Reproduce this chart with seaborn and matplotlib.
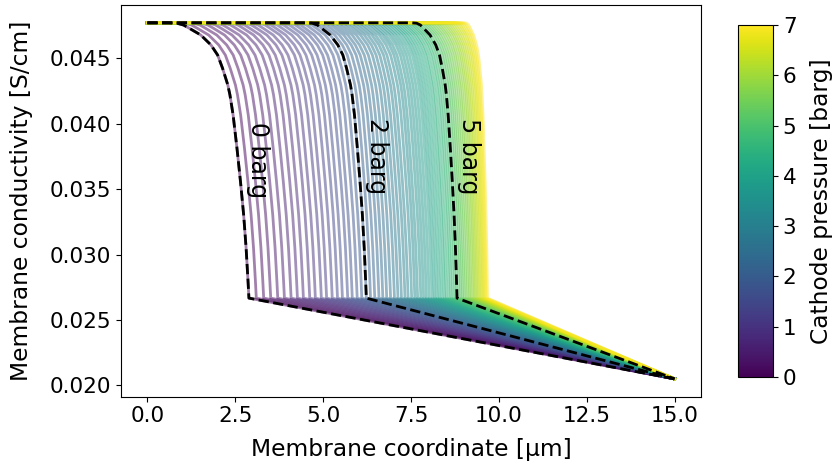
import numpy as np
import pandas as pd
import matplotlib
matplotlib.use("Agg")
import matplotlib.pyplot as plt
import seaborn as sns
from matplotlib.colors import Normalize

# ---- data ----
pressures = [0.0, 0.1, 0.2, 0.3, 0.4, 0.5, 0.6, 0.7, 0.8, 0.9,
             1.0, 1.1, 1.2, 1.3, 1.4, 1.5, 1.6, 1.7, 1.8, 1.9,
             2.0, 2.1, 2.2, 2.3, 2.4, 2.5, 2.6, 2.7, 2.8, 2.9,
             3.0, 3.1, 3.2, 3.3, 3.4, 3.5, 3.6, 3.7, 3.8, 3.9,
             4.0, 4.1, 4.2, 4.3, 4.4, 4.5, 4.6, 4.7, 4.8, 4.9,
             5.0, 5.1, 5.2, 5.3, 5.4, 5.5, 5.6, 5.7, 5.8, 5.9,
             6.0, 6.1, 6.2, 6.3, 6.4, 6.5, 6.6, 6.7, 6.8, 6.9, 7.0]

# position of the foot of the conductivity drop [um] for each pressure
front_x = [2.89, 3.10, 3.31, 3.51, 3.71, 3.90, 4.09, 4.27, 4.44, 4.62,
           4.78, 4.95, 5.10, 5.26, 5.41, 5.55, 5.70, 5.83, 5.97, 6.10,
           6.23, 6.35, 6.47, 6.59, 6.70, 6.81, 6.92, 7.03, 7.13, 7.23,
           7.33, 7.42, 7.52, 7.61, 7.69, 7.78, 7.86, 7.94, 8.02, 8.10,
           8.17, 8.24, 8.31, 8.38, 8.45, 8.51, 8.58, 8.64, 8.70, 8.76,
           8.81, 8.87, 8.92, 8.97, 9.02, 9.07, 9.12, 9.17, 9.21, 9.26,
           9.30, 9.34, 9.38, 9.42, 9.46, 9.50, 9.54, 9.57, 9.61, 9.64, 9.68]

# relative width of the drop zone for each pressure
front_width = [1.00, 0.99, 0.975, 0.96, 0.95, 0.94, 0.925, 0.91, 0.90, 0.89,
               0.875, 0.86, 0.85, 0.84, 0.825, 0.81, 0.80, 0.79, 0.775, 0.76,
               0.75, 0.744, 0.737, 0.731, 0.725, 0.718, 0.712, 0.706, 0.699, 0.693,
               0.687, 0.680, 0.674, 0.668, 0.661, 0.655, 0.649, 0.642, 0.636, 0.630,
               0.623, 0.617, 0.611, 0.604, 0.598, 0.592, 0.585, 0.579, 0.573, 0.566,
               0.56, 0.547, 0.533, 0.52, 0.506, 0.493, 0.479, 0.466, 0.452, 0.439,
               0.425, 0.412, 0.398, 0.385, 0.371, 0.358, 0.344, 0.331, 0.317, 0.304, 0.29]

# drop profile: distance before the foot [um] and conductivity [S/cm]
profile_offset = [2.30, 2.05, 1.86, 1.70, 1.37, 1.08, 0.89, 0.75, 0.60, 0.54,
                  0.45, 0.34, 0.24, 0.15, 0.08, 0.025, 0.0]
profile_sigma = [0.04770, 0.04767, 0.04753, 0.04729, 0.04677, 0.04601, 0.04524,
                 0.04423, 0.04295, 0.04219, 0.04066, 0.03812, 0.03557, 0.03303,
                 0.03049, 0.02794, 0.02667]

sigma_anode = 0.0477     # at x = 0
sigma_cathode = 0.0205   # at x = 15
membrane_thickness = 15.0

highlight = [0.0, 2.0, 5.0]
highlight_labels = ["0 barg", "2 barg", "5 barg"]
label_x = [3.16, 6.52, 9.14]
label_y = [0.0372, 0.0375, 0.0375]

# ---- build long-form table ----
rows = []
for p, xf, w in zip(pressures, front_x, front_width):
    xs = [0.0] + [xf - w * o for o in profile_offset] + [membrane_thickness]
    ys = [sigma_anode] + profile_sigma + [sigma_cathode]
    for i, (xx, yy) in enumerate(zip(xs, ys)):
        rows.append((p, i, xx, yy))
df = pd.DataFrame(rows, columns=["pressure", "idx", "x", "sigma"])

plt.rcParams["font.family"] = ["DejaVu Sans"]
plt.rcParams["font.size"] = 15.5

fig = plt.figure(figsize=(8.36, 4.65), dpi=100)
ax = fig.add_axes([0.1447, 0.1469, 0.6938, 0.8423])
cax = fig.add_axes([0.8828, 0.1892, 0.0419, 0.757])

norm = Normalize(0, 7)
sns.lineplot(data=df, x="x", y="sigma", hue="pressure", units="pressure",
             estimator=None, sort=False, palette="viridis", hue_norm=norm,
             legend=False, alpha=0.5, lw=2.0, ax=ax)

dash_df = df[df["pressure"].isin(highlight)]
sns.lineplot(data=dash_df, x="x", y="sigma", units="pressure", estimator=None,
             sort=False, color="black", ls="--", lw=2.0, legend=False, ax=ax)

for t, lx, ly in zip(highlight_labels, label_x, label_y):
    ax.text(lx, ly, t, rotation=270, ha="center", va="center", fontsize=17)

ax.set_xlabel("Membrane coordinate [µm]", fontsize=16.8, labelpad=8)
ax.set_ylabel("Membrane conductivity [S/cm]", fontsize=16.8, labelpad=12)
ax.set_xticks([0.0, 2.5, 5.0, 7.5, 10.0, 12.5, 15.0])
ax.set_yticks([0.020, 0.025, 0.030, 0.035, 0.040, 0.045])
ax.yaxis.set_major_formatter(matplotlib.ticker.FormatStrFormatter("%.3f"))
ax.xaxis.set_major_formatter(matplotlib.ticker.FormatStrFormatter("%.1f"))
ax.margins(x=0.05, y=0.05)

sm = plt.cm.ScalarMappable(norm=norm, cmap="viridis")
cb = fig.colorbar(sm, cax=cax)
cb.set_label("Cathode pressure [barg]", fontsize=16.8, labelpad=10)
cb.set_ticks([0, 1, 2, 3, 4, 5, 6, 7])

fig.savefig("out.png", dpi=100)
